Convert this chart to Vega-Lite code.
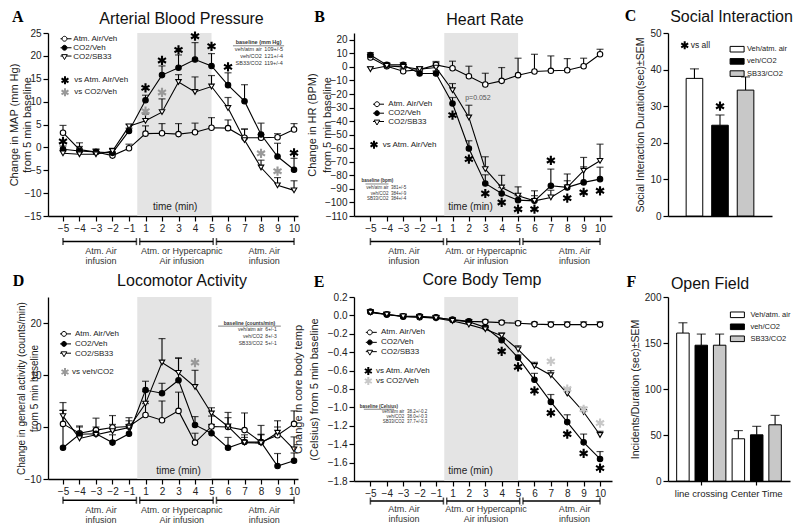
{
"$schema": "https://vega.github.io/schema/vega-lite/v6.json",
"padding": {"left": 8, "top": 7, "right": 0, "bottom": 0},
"background": "white",
"bounds": "flush",
"columns": 3,
"spacing": {"row": 81, "column": 56},
"resolve": {"scale": {"color": "independent", "fill": "independent", "shape": "independent"}, "legend": {"color": "independent", "fill": "independent", "shape": "independent"}},
"datasets": {
"br": [{"t": -5, "t2": -0.1}, {"t": 0.3, "t2": 5.1}, {"t": 5.3, "t2": 10}],
"bt": [{"t": -5}, {"t": -0.1}, {"t": 0.3}, {"t": 5.1}, {"t": 5.3}, {"t": 10}],
"bl1": [{"t": -2.7, "label": "Atm. Air\ninfusion"}, {"t": 3.2, "label": "Atm. or Hypercapnic\nAir infusion"}, {"t": 8.2, "label": "Atm. Air\ninfusion"}],
"bl2": [{"t": -2.95, "label": "Atm. Air\ninfusion"}, {"t": 3.05, "label": "Atm. or Hypercapnic\nAir infusion"}, {"t": 8.45, "label": "Atm. Air\ninfusion"}],
"leg": [{"t": -5, "series": "Atm. Air/Veh"}, {"t": -5, "series": "CO2/Veh"}, {"t": -5, "series": "CO2/SB33"}],
"A": [
{"t":-5,"series":"Atm. Air/Veh","v":3.2,"hi":4.8},{"t":-4,"series":"Atm. Air/Veh","v":-0.5,"hi":1.0},{"t":-3,"series":"Atm. Air/Veh","v":-1.0,"hi":-0.4},{"t":-2,"series":"Atm. Air/Veh","v":-1.8,"hi":-1.2},{"t":-1,"series":"Atm. Air/Veh","v":-0.2,"hi":0.7},{"t":1,"series":"Atm. Air/Veh","v":3.0,"hi":4.7},{"t":2,"series":"Atm. Air/Veh","v":3.1,"hi":5.2},{"t":3,"series":"Atm. Air/Veh","v":2.9,"hi":5.2},{"t":4,"series":"Atm. Air/Veh","v":3.3,"hi":5.3},{"t":5,"series":"Atm. Air/Veh","v":4.3,"hi":6.5},{"t":6,"series":"Atm. Air/Veh","v":4.2,"hi":6.0},{"t":7,"series":"Atm. Air/Veh","v":2.1,"hi":4.0},{"t":8,"series":"Atm. Air/Veh","v":2.1,"hi":2.8},{"t":9,"series":"Atm. Air/Veh","v":2.2,"hi":3.0},{"t":10,"series":"Atm. Air/Veh","v":3.9,"hi":5.2},
{"t":-5,"series":"CO2/Veh","v":-0.4,"hi":0.3},{"t":-4,"series":"CO2/Veh","v":-0.8,"hi":0.2},{"t":-3,"series":"CO2/Veh","v":-1.0,"hi":-0.4},{"t":-2,"series":"CO2/Veh","v":-1.2,"hi":-0.4},{"t":-1,"series":"CO2/Veh","v":3.6,"hi":4.2},{"t":1,"series":"CO2/Veh","v":10.3,"hi":11.4},{"t":2,"series":"CO2/Veh","v":15.8,"hi":17.8},{"t":3,"series":"CO2/Veh","v":17.4,"hi":20.2},{"t":4,"series":"CO2/Veh","v":19.2,"hi":22.9},{"t":5,"series":"CO2/Veh","v":17.8,"hi":20.5},{"t":6,"series":"CO2/Veh","v":13.6,"hi":16.3},{"t":7,"series":"CO2/Veh","v":10.1,"hi":13.7},{"t":8,"series":"CO2/Veh","v":2.8,"hi":5.3},{"t":9,"series":"CO2/Veh","v":-2.0,"hi":0.9},{"t":10,"series":"CO2/Veh","v":-4.9,"hi":-2.4},
{"t":-5,"series":"CO2/SB33","v":-1.3,"hi":-0.7},{"t":-4,"series":"CO2/SB33","v":-1.5,"hi":-0.9},{"t":-3,"series":"CO2/SB33","v":-1.5,"hi":-0.9},{"t":-2,"series":"CO2/SB33","v":-0.8,"hi":-0.2},{"t":-1,"series":"CO2/SB33","v":4.6,"hi":5.0},{"t":1,"series":"CO2/SB33","v":5.8,"hi":7.3},{"t":2,"series":"CO2/SB33","v":7.7,"hi":10.6},{"t":3,"series":"CO2/SB33","v":14.3,"hi":15.9},{"t":4,"series":"CO2/SB33","v":12.1,"hi":15.4},{"t":5,"series":"CO2/SB33","v":13.3,"hi":15.7},{"t":6,"series":"CO2/SB33","v":8.6,"hi":10.9},{"t":7,"series":"CO2/SB33","v":1.6,"hi":4.0},{"t":8,"series":"CO2/SB33","v":-4.4,"hi":-2.8},{"t":9,"series":"CO2/SB33","v":-8.3,"hi":-6.6},{"t":10,"series":"CO2/SB33","v":-9.4,"hi":-7.3}
],
"As": [{"t":-5,"v":1.3,"sig":"vs Atm. Air/Veh"},{"t":1,"v":13.0,"sig":"vs Atm. Air/Veh"},{"t":2,"v":19.0,"sig":"vs Atm. Air/Veh"},{"t":3,"v":21.3,"sig":"vs Atm. Air/Veh"},{"t":4,"v":24.3,"sig":"vs Atm. Air/Veh"},{"t":5,"v":22.1,"sig":"vs Atm. Air/Veh"},{"t":6,"v":17.6,"sig":"vs Atm. Air/Veh"},{"t":10,"v":-1.2,"sig":"vs Atm. Air/Veh"},{"t":1,"v":7.9,"sig":"vs CO2/Veh"},{"t":2,"v":12.0,"sig":"vs CO2/Veh"},{"t":8,"v":-1.3,"sig":"vs CO2/Veh"},{"t":9,"v":-5.2,"sig":"vs CO2/Veh"}],
"B": [
{"t":-5,"series":"Atm. Air/Veh","v":6.9,"hi":9},{"t":-4,"series":"Atm. Air/Veh","v":0.5,"hi":2.5},{"t":-3,"series":"Atm. Air/Veh","v":-3.2,"hi":-1},{"t":-2,"series":"Atm. Air/Veh","v":-2,"hi":0},{"t":-1,"series":"Atm. Air/Veh","v":1.5,"hi":4},{"t":1,"series":"Atm. Air/Veh","v":-1,"hi":4.2},{"t":2,"series":"Atm. Air/Veh","v":-6.9,"hi":0.5},{"t":3,"series":"Atm. Air/Veh","v":-13,"hi":-4.7},{"t":4,"series":"Atm. Air/Veh","v":-10.3,"hi":-0.5},{"t":5,"series":"Atm. Air/Veh","v":-6.1,"hi":6.4},{"t":6,"series":"Atm. Air/Veh","v":-3.4,"hi":9.3},{"t":7,"series":"Atm. Air/Veh","v":-2.9,"hi":8.1},{"t":8,"series":"Atm. Air/Veh","v":-2.5,"hi":6.1},{"t":9,"series":"Atm. Air/Veh","v":0.5,"hi":6.4},{"t":10,"series":"Atm. Air/Veh","v":9.3,"hi":13},
{"t":-5,"series":"CO2/Veh","v":8.8,"hi":10.5},{"t":-4,"series":"CO2/Veh","v":1.5,"hi":3},{"t":-3,"series":"CO2/Veh","v":1.5,"hi":3},{"t":-2,"series":"CO2/Veh","v":-4.9,"hi":-3},{"t":-1,"series":"CO2/Veh","v":-4.9,"hi":-3},{"t":1,"series":"CO2/Veh","v":-27,"hi":-22.6},{"t":2,"series":"CO2/Veh","v":-60.2,"hi":-54.5},{"t":3,"series":"CO2/Veh","v":-86,"hi":-79.6},{"t":4,"series":"CO2/Veh","v":-93.4,"hi":-89},{"t":5,"series":"CO2/Veh","v":-98.3,"hi":-95},{"t":6,"series":"CO2/Veh","v":-98.8,"hi":-95},{"t":7,"series":"CO2/Veh","v":-87.7,"hi":-75.4},{"t":8,"series":"CO2/Veh","v":-88.9,"hi":-79},{"t":9,"series":"CO2/Veh","v":-85.2,"hi":-73.7},{"t":10,"series":"CO2/Veh","v":-82.8,"hi":-74},
{"t":-5,"series":"CO2/SB33","v":-1.7,"hi":0},{"t":-4,"series":"CO2/SB33","v":0.7,"hi":2},{"t":-3,"series":"CO2/SB33","v":0,"hi":1.5},{"t":-2,"series":"CO2/SB33","v":-1.7,"hi":0},{"t":-1,"series":"CO2/SB33","v":-0.5,"hi":3},{"t":1,"series":"CO2/SB33","v":-17.2,"hi":-12.3},{"t":2,"series":"CO2/SB33","v":-37.3,"hi":-28.3},{"t":3,"series":"CO2/SB33","v":-75.4,"hi":-66.3},{"t":4,"series":"CO2/SB33","v":-89,"hi":-80},{"t":5,"series":"CO2/SB33","v":-95,"hi":-88.5},{"t":6,"series":"CO2/SB33","v":-98.8,"hi":-91.4},{"t":7,"series":"CO2/SB33","v":-96.3,"hi":-91},{"t":8,"series":"CO2/SB33","v":-88.9,"hi":-84},{"t":9,"series":"CO2/SB33","v":-76.6,"hi":-66.8},{"t":10,"series":"CO2/SB33","v":-69.3,"hi":-57}
],
"Bs": [{"t":1,"v":-35.6,"sig":"vs Atm. Air/Veh"},{"t":2,"v":-68,"sig":"vs Atm. Air/Veh"},{"t":3,"v":-93.4,"sig":"vs Atm. Air/Veh"},{"t":4,"v":-100,"sig":"vs Atm. Air/Veh"},{"t":5,"v":-105,"sig":"vs Atm. Air/Veh"},{"t":6,"v":-105,"sig":"vs Atm. Air/Veh"},{"t":7,"v":-69,"sig":"vs Atm. Air/Veh"},{"t":8,"v":-96.8,"sig":"vs Atm. Air/Veh"},{"t":9,"v":-92.6,"sig":"vs Atm. Air/Veh"},{"t":10,"v":-91.4,"sig":"vs Atm. Air/Veh"}],
"D": [
{"t":-5,"series":"Atm. Air/Veh","v":0.6,"hi":3.2},{"t":-4,"series":"Atm. Air/Veh","v":-1.2,"hi":0.2},{"t":-3,"series":"Atm. Air/Veh","v":-0.6,"hi":1.7},{"t":-2,"series":"Atm. Air/Veh","v":-0.1,"hi":2.2},{"t":-1,"series":"Atm. Air/Veh","v":0.1,"hi":1.8},{"t":1,"series":"Atm. Air/Veh","v":2.3,"hi":4.5},{"t":2,"series":"Atm. Air/Veh","v":1.3,"hi":5.0},{"t":3,"series":"Atm. Air/Veh","v":3.1,"hi":6.7},{"t":4,"series":"Atm. Air/Veh","v":-3.0,"hi":-1.2},{"t":5,"series":"Atm. Air/Veh","v":0.1,"hi":2.1},{"t":6,"series":"Atm. Air/Veh","v":0,"hi":2.8},{"t":7,"series":"Atm. Air/Veh","v":-0.6,"hi":2.7},{"t":8,"series":"Atm. Air/Veh","v":-2.9,"hi":-1.5},{"t":9,"series":"Atm. Air/Veh","v":-1.6,"hi":0},{"t":10,"series":"Atm. Air/Veh","v":0.6,"hi":3.1},
{"t":-5,"series":"CO2/Veh","v":-4.0,"hi":3.2},{"t":-4,"series":"CO2/Veh","v":-1.4,"hi":0},{"t":-3,"series":"CO2/Veh","v":-1.3,"hi":0},{"t":-2,"series":"CO2/Veh","v":-3.0,"hi":-1.5},{"t":-1,"series":"CO2/Veh","v":-1.3,"hi":0.5},{"t":1,"series":"CO2/Veh","v":7.1,"hi":8.8},{"t":2,"series":"CO2/Veh","v":6.5,"hi":8.4},{"t":3,"series":"CO2/Veh","v":9.0,"hi":13.3},{"t":4,"series":"CO2/Veh","v":0.4,"hi":2.0},{"t":5,"series":"CO2/Veh","v":-1.2,"hi":0.5},{"t":6,"series":"CO2/Veh","v":-4.0,"hi":-2},{"t":7,"series":"CO2/Veh","v":-2.9,"hi":-1.5},{"t":8,"series":"CO2/Veh","v":-2.9,"hi":0.3},{"t":9,"series":"CO2/Veh","v":-7.5,"hi":-5.1},{"t":10,"series":"CO2/Veh","v":-6.5,"hi":-5},
{"t":-5,"series":"CO2/SB33","v":2.1,"hi":4.7},{"t":-4,"series":"CO2/SB33","v":-2.2,"hi":-1},{"t":-3,"series":"CO2/SB33","v":-1.5,"hi":-0.5},{"t":-2,"series":"CO2/SB33","v":-0.8,"hi":0.5},{"t":-1,"series":"CO2/SB33","v":-0.1,"hi":1.2},{"t":1,"series":"CO2/SB33","v":4.5,"hi":6.8},{"t":2,"series":"CO2/SB33","v":12.4,"hi":17.0},{"t":3,"series":"CO2/SB33","v":10.4,"hi":13.2},{"t":4,"series":"CO2/SB33","v":7.7,"hi":10.9},{"t":5,"series":"CO2/SB33","v":2.6,"hi":3.7},{"t":6,"series":"CO2/SB33","v":0.1,"hi":1.8},{"t":7,"series":"CO2/SB33","v":-3.0,"hi":-2},{"t":8,"series":"CO2/SB33","v":-3.1,"hi":-1.4},{"t":9,"series":"CO2/SB33","v":-1.1,"hi":1.2},{"t":10,"series":"CO2/SB33","v":-4.3,"hi":-1.9}
],
"Ds": [{"t":4,"v":12.4,"sig":"vs veh/CO2"}],
"E": [
{"t":-5,"series":"Atm. Air/Veh","v":0.04,"hi":0.06},{"t":-4,"series":"Atm. Air/Veh","v":0.01,"hi":0.03},{"t":-3,"series":"Atm. Air/Veh","v":-0.015,"hi":0.005},{"t":-2,"series":"Atm. Air/Veh","v":-0.02,"hi":0},{"t":-1,"series":"Atm. Air/Veh","v":-0.025,"hi":-0.005},{"t":1,"series":"Atm. Air/Veh","v":-0.045,"hi":-0.025},{"t":2,"series":"Atm. Air/Veh","v":-0.065,"hi":-0.045},{"t":3,"series":"Atm. Air/Veh","v":-0.07,"hi":-0.05},{"t":4,"series":"Atm. Air/Veh","v":-0.078,"hi":-0.058},{"t":5,"series":"Atm. Air/Veh","v":-0.086,"hi":-0.066},{"t":6,"series":"Atm. Air/Veh","v":-0.095,"hi":-0.075},{"t":7,"series":"Atm. Air/Veh","v":-0.1,"hi":-0.07},{"t":8,"series":"Atm. Air/Veh","v":-0.1,"hi":-0.07},{"t":9,"series":"Atm. Air/Veh","v":-0.1,"hi":-0.07},{"t":10,"series":"Atm. Air/Veh","v":-0.1,"hi":-0.07},
{"t":-5,"series":"CO2/Veh","v":0.04,"hi":0.06},{"t":-4,"series":"CO2/Veh","v":0.01,"hi":0.03},{"t":-3,"series":"CO2/Veh","v":-0.01,"hi":0.01},{"t":-2,"series":"CO2/Veh","v":-0.01,"hi":0.01},{"t":-1,"series":"CO2/Veh","v":-0.02,"hi":0},{"t":1,"series":"CO2/Veh","v":-0.05,"hi":-0.03},{"t":2,"series":"CO2/Veh","v":-0.07,"hi":-0.05},{"t":3,"series":"CO2/Veh","v":-0.13,"hi":-0.11},{"t":4,"series":"CO2/Veh","v":-0.27,"hi":-0.25},{"t":5,"series":"CO2/Veh","v":-0.46,"hi":-0.43},{"t":6,"series":"CO2/Veh","v":-0.70,"hi":-0.63},{"t":7,"series":"CO2/Veh","v":-0.94,"hi":-0.86},{"t":8,"series":"CO2/Veh","v":-1.16,"hi":-1.08},{"t":9,"series":"CO2/Veh","v":-1.38,"hi":-1.29},{"t":10,"series":"CO2/Veh","v":-1.56,"hi":-1.48},
{"t":-5,"series":"CO2/SB33","v":0.03,"hi":0.05},{"t":-4,"series":"CO2/SB33","v":0.01,"hi":0.03},{"t":-3,"series":"CO2/SB33","v":-0.01,"hi":0.01},{"t":-2,"series":"CO2/SB33","v":-0.02,"hi":0},{"t":-1,"series":"CO2/SB33","v":-0.03,"hi":-0.01},{"t":1,"series":"CO2/SB33","v":-0.06,"hi":-0.04},{"t":2,"series":"CO2/SB33","v":-0.10,"hi":-0.08},{"t":3,"series":"CO2/SB33","v":-0.15,"hi":-0.13},{"t":4,"series":"CO2/SB33","v":-0.22,"hi":-0.19},{"t":5,"series":"CO2/SB33","v":-0.37,"hi":-0.33},{"t":6,"series":"CO2/SB33","v":-0.55,"hi":-0.51},{"t":7,"series":"CO2/SB33","v":-0.65,"hi":-0.6},{"t":8,"series":"CO2/SB33","v":-0.85,"hi":-0.8},{"t":9,"series":"CO2/SB33","v":-1.05,"hi":-1.0},{"t":10,"series":"CO2/SB33","v":-1.30,"hi":-1.26}
],
"Es": [{"t":4,"v":-0.39,"sig":"vs Atm. Air/Veh"},{"t":5,"v":-0.56,"sig":"vs Atm. Air/Veh"},{"t":6,"v":-0.82,"sig":"vs Atm. Air/Veh"},{"t":7,"v":-1.06,"sig":"vs Atm. Air/Veh"},{"t":8,"v":-1.29,"sig":"vs Atm. Air/Veh"},{"t":9,"v":-1.50,"sig":"vs Atm. Air/Veh"},{"t":10,"v":-1.66,"sig":"vs Atm. Air/Veh"},{"t":7,"v":-0.50,"sig":"vs CO2/Veh"},{"t":8,"v":-0.80,"sig":"vs CO2/Veh"},{"t":9,"v":-1.02,"sig":"vs CO2/Veh"},{"t":10,"v":-1.17,"sig":"vs CO2/Veh"}],
"C": [{"g":"Veh/atm. air","v":37.6,"hi":40.2},{"g":"veh/CO2","v":24.8,"hi":27.6},{"g":"SB33/CO2","v":34.4,"hi":38.0}],
"Cs": [{"g":"veh/CO2","v":30.0,"sig":"vs all"}],
"F": [{"grp":"line crossing","g":"Veh/atm. air","v":160.8,"hi":172},{"grp":"line crossing","g":"veh/CO2","v":147.6,"hi":159.7},{"grp":"line crossing","g":"SB33/CO2","v":147.6,"hi":159.7},{"grp":"Center Time","g":"Veh/atm. air","v":45.9,"hi":54.8},{"grp":"Center Time","g":"veh/CO2","v":50.2,"hi":59.4},{"grp":"Center Time","g":"SB33/CO2","v":61.1,"hi":71.3}]
},
"concat": [
{
 "width": 250, "height": 183,
 "title": {"text": "Arterial Blood Pressure", "dx": 8.5, "offset": -31.3, "baseline": "alphabetic", "frame": "group"},
 "encoding": {"x": {"field": "t", "type": "quantitative", "scale": {"domain": [-5.909, -1, 1, 10.24], "range": [0, 81, 97.5, 250], "nice": false, "zero": false}, "axis": {"values": [-5,-4,-3,-2,-1,1,2,3,4,5,6,7,8,9,10], "title": null, "labelOverlap": false, "labelFlush": false}}},
 "layer": [
  {"layer": [
   {"data": {"values": [{"t": 0, "t2": 5}]}, "mark": {"type": "rect", "color": "#e4e4e4"}, "encoding": {"x2": {"field": "t2"}, "y": {"datum": 0, "type": "quantitative", "scale": {"domain": [0, 1], "nice": false, "zero": false}, "axis": {"orient": "right", "labels": false, "ticks": false, "domain": false, "title": "A", "titleAngle": 0, "titleX": -280.7, "titleY": -11.3, "titleFont": "Liberation Serif", "titleFontWeight": "bold", "titleFontSize": 16, "titleColor": "#000", "titleAlign": "center", "titleBaseline": "alphabetic"}}, "y2": {"datum": 1}}},
   {"data": {"name": "br"}, "mark": {"type": "rule", "color": "#000", "strokeWidth": 1.5}, "encoding": {"x2": {"field": "t2"}, "y": {"datum": -0.14, "type": "quantitative", "scale": {"domain": [0, 1], "nice": false, "zero": false}}}},
   {"data": {"name": "bt"}, "mark": {"type": "tick", "orient": "vertical", "color": "#000", "size": 7, "thickness": 1.5}, "encoding": {"y": {"datum": -0.14, "type": "quantitative", "scale": {"domain": [0, 1], "nice": false, "zero": false}}}},
   {"data": {"name": "bl1"}, "mark": {"type": "text", "lineBreak": "\n", "baseline": "top", "fontSize": 9, "lineHeight": 10, "color": "#333"}, "encoding": {"text": {"field": "label"}, "y": {"datum": -0.167, "type": "quantitative", "scale": {"domain": [0, 1], "nice": false, "zero": false}}}},
   {"data": {"values": [{"t": 2.8, "label": "time (min)"}]}, "mark": {"type": "text", "fontSize": 10, "color": "#222"}, "encoding": {"text": {"field": "label"}, "y": {"datum": 0.05, "type": "quantitative", "scale": {"domain": [0, 1], "nice": false, "zero": false}}}},
   {"data": {"values": [{"t": 7.85, "p": 0.95, "label": "baseline (mm Hg)"}]}, "mark": {"type": "text", "fontSize": 5.5, "fontWeight": "bold", "color": "#333"}, "encoding": {"text": {"field": "label"}, "y": {"field": "p", "type": "quantitative", "scale": {"domain": [0, 1], "nice": false, "zero": false}}}},
   {"data": {"values": [{"t": 6.3, "t2": 9.4, "p": 0.93}]}, "mark": {"type": "rule", "color": "#333", "strokeWidth": 0.6}, "encoding": {"x2": {"field": "t2"}, "y": {"field": "p", "type": "quantitative", "scale": {"domain": [0, 1], "nice": false, "zero": false}}}},
   {"data": {"values": [{"t": 8.05, "p": 0.913, "label": "veh/atm air"}, {"t": 8.05, "p": 0.874, "label": "veh/CO2"}, {"t": 8.05, "p": 0.836, "label": "SB33/CO2"}]}, "mark": {"type": "text", "align": "right", "fontSize": 5.5, "color": "#333"}, "encoding": {"text": {"field": "label"}, "y": {"field": "p", "type": "quantitative", "scale": {"domain": [0, 1], "nice": false, "zero": false}}}},
   {"data": {"values": [{"t": 8.2, "p": 0.913, "label": "109+/-5"}, {"t": 8.2, "p": 0.874, "label": "121+/-4"}, {"t": 8.2, "p": 0.836, "label": "119+/-4"}]}, "mark": {"type": "text", "align": "left", "fontSize": 5.5, "color": "#333"}, "encoding": {"text": {"field": "label"}, "y": {"field": "p", "type": "quantitative", "scale": {"domain": [0, 1], "nice": false, "zero": false}}}},
   {"data": {"name": "leg"}, "mark": {"type": "point", "filled": true, "clip": true, "stroke": "#000", "strokeWidth": 1, "size": 49}, "encoding": {"y": {"datum": 3, "type": "quantitative", "scale": {"domain": [0, 1], "nice": false, "zero": false}},
     "shape": {"field": "series", "type": "nominal", "scale": {"domain": ["Atm. Air/Veh", "CO2/Veh", "CO2/SB33"], "range": ["M-2,0H-0.7M0.7,0H2M0.7,0A0.7,0.7,0,1,1,-0.7,0A0.7,0.7,0,1,1,0.7,0Z", "M-2,0H-0.7M0.7,0H2M0.7,0A0.7,0.7,0,1,1,-0.7,0A0.7,0.7,0,1,1,0.7,0Z", "M-2,-0.2H-0.57M0.57,-0.2H2M-0.8,-0.6H0.8L0,0.8Z"]}, "legend": {"title": null, "orient": "none", "legendX": 12.5, "legendY": 2, "symbolSize": 49, "symbolStrokeColor": "#000", "symbolStrokeWidth": 1, "symbolOpacity": 1, "labelFontSize": 8, "labelOffset": 4.8, "rowPadding": 0, "clipHeight": 7.5, "encode": {"symbols": {"update": {"stroke": {"value": "#000"}, "strokeWidth": {"value": 1}}}}}},
     "fill": {"field": "series", "type": "nominal", "scale": {"domain": ["Atm. Air/Veh", "CO2/Veh", "CO2/SB33"], "range": ["#fff", "#000", "#fff"]}, "legend": {"title": null, "orient": "none", "legendX": 12.5, "legendY": 2, "symbolSize": 49, "symbolStrokeColor": "#000", "symbolStrokeWidth": 1, "symbolOpacity": 1, "labelFontSize": 8, "labelOffset": 4.8, "rowPadding": 0, "clipHeight": 7.5, "encode": {"symbols": {"update": {"stroke": {"value": "#000"}, "strokeWidth": {"value": 1}}}}}}}}
  ]},
  {"data": {"name": "A"}, "encoding": {"y": {"field": "v", "type": "quantitative", "scale": {"domain": [-15, 25], "nice": false, "zero": false}, "axis": {"orient": "left", "values": [-15,-10,-5,0,5,10,15,20,25], "title": ["Change in MAP (mm Hg)", "from 5 min baseline"], "titlePadding": -8}}},
   "layer": [
    {"mark": {"type": "line", "color": "#000", "strokeWidth": 1.1}, "encoding": {"detail": {"field": "series", "type": "nominal"}}},
    {"mark": {"type": "rule", "color": "#000", "strokeWidth": 1.1}, "encoding": {"y2": {"field": "hi"}}},
    {"mark": {"type": "tick", "orient": "horizontal", "color": "#000", "size": 7, "thickness": 1.2}, "encoding": {"y": {"field": "hi", "type": "quantitative", "scale": {"domain": [-15, 25], "nice": false, "zero": false}}}},
    {"mark": {"type": "point", "filled": true, "size": 30, "stroke": "#000", "strokeWidth": 1.1, "opacity": 1}, "encoding": {"shape": {"field": "series", "type": "nominal", "scale": {"domain": ["Atm. Air/Veh", "CO2/Veh", "CO2/SB33"], "range": ["circle", "circle", "triangle-down"]}, "legend": null}, "fill": {"field": "series", "type": "nominal", "scale": {"domain": ["Atm. Air/Veh", "CO2/Veh", "CO2/SB33"], "range": ["#fff", "#000", "#fff"]}, "legend": null}}},
    {"data": {"name": "As"}, "mark": {"type": "point", "shape": "M0,-1V1M-0.87,-0.5L0.87,0.5M-0.87,0.5L0.87,-0.5", "filled": false, "size": 85, "strokeWidth": 2.1, "opacity": 1}, "encoding": {"color": {"field": "sig", "type": "nominal", "scale": {"domain": ["vs Atm. Air/Veh", "vs CO2/Veh"], "range": ["#000", "#999"]}, "legend": {"title": null, "orient": "none", "legendX": 12, "legendY": 41.3, "symbolType": "M0,-1V1M-0.87,-0.5L0.87,0.5M-0.87,0.5L0.87,-0.5", "symbolSize": 64, "symbolStrokeWidth": 2, "labelFontSize": 8, "labelOffset": 4.3, "rowPadding": 0, "clipHeight": 12}}}}
   ]}
 ],
 "resolve": {"scale": {"y": "independent", "shape": "independent", "fill": "independent"}}
},
{
 "width": 258, "height": 183,
 "title": {"text": "Heart Rate", "dx": 2, "offset": -32.3, "baseline": "alphabetic", "frame": "group"},
 "encoding": {"x": {"field": "t", "type": "quantitative", "scale": {"domain": [-6, -1, 1, 10.73], "range": [0, 82, 98.5, 258], "nice": false, "zero": false}, "axis": {"values": [-5,-4,-3,-2,-1,1,2,3,4,5,6,7,8,9,10], "title": null, "labelOverlap": false, "labelFlush": false}}},
 "layer": [
  {"layer": [
   {"data": {"values": [{"t": 0, "t2": 5}]}, "mark": {"type": "rect", "color": "#e4e4e4"}, "encoding": {"x2": {"field": "t2"}, "y": {"datum": 0, "type": "quantitative", "scale": {"domain": [0, 1], "nice": false, "zero": false}, "axis": {"orient": "right", "labels": false, "ticks": false, "domain": false, "title": "B", "titleAngle": 0, "titleX": -293, "titleY": -11.3, "titleFont": "Liberation Serif", "titleFontWeight": "bold", "titleFontSize": 16, "titleColor": "#000", "titleAlign": "center", "titleBaseline": "alphabetic"}}, "y2": {"datum": 1}}},
   {"data": {"name": "br"}, "mark": {"type": "rule", "color": "#000", "strokeWidth": 1.5}, "encoding": {"x2": {"field": "t2"}, "y": {"datum": -0.14, "type": "quantitative", "scale": {"domain": [0, 1], "nice": false, "zero": false}}}},
   {"data": {"name": "bt"}, "mark": {"type": "tick", "orient": "vertical", "color": "#000", "size": 7, "thickness": 1.5}, "encoding": {"y": {"datum": -0.14, "type": "quantitative", "scale": {"domain": [0, 1], "nice": false, "zero": false}}}},
   {"data": {"name": "bl2"}, "mark": {"type": "text", "lineBreak": "\n", "baseline": "top", "fontSize": 9, "lineHeight": 10, "color": "#333"}, "encoding": {"text": {"field": "label"}, "y": {"datum": -0.167, "type": "quantitative", "scale": {"domain": [0, 1], "nice": false, "zero": false}}}},
   {"data": {"values": [{"t": 2.1, "label": "time (min)"}]}, "mark": {"type": "text", "fontSize": 10, "color": "#222"}, "encoding": {"text": {"field": "label"}, "y": {"datum": 0.05, "type": "quantitative", "scale": {"domain": [0, 1], "nice": false, "zero": false}}}},
   {"data": {"values": [{"t": -4.58, "p": 0.19, "label": "baseline (bpm)"}]}, "mark": {"type": "text", "fontSize": 4.5, "fontWeight": "bold", "color": "#333"}, "encoding": {"text": {"field": "label"}, "y": {"field": "p", "type": "quantitative", "scale": {"domain": [0, 1], "nice": false, "zero": false}}}},
   {"data": {"values": [{"t": -5.3, "t2": -3.9, "p": 0.175}]}, "mark": {"type": "rule", "color": "#333", "strokeWidth": 0.6}, "encoding": {"x2": {"field": "t2"}, "y": {"field": "p", "type": "quantitative", "scale": {"domain": [0, 1], "nice": false, "zero": false}}}},
   {"data": {"values": [{"t": -3.9, "p": 0.153, "label": "veh/atm air"}, {"t": -3.9, "p": 0.12, "label": "veh/CO2"}, {"t": -3.9, "p": 0.093, "label": "SB33/CO2"}]}, "mark": {"type": "text", "align": "right", "fontSize": 4.5, "color": "#333"}, "encoding": {"text": {"field": "label"}, "y": {"field": "p", "type": "quantitative", "scale": {"domain": [0, 1], "nice": false, "zero": false}}}},
   {"data": {"values": [{"t": -3.75, "p": 0.153, "label": "381+/-5"}, {"t": -3.75, "p": 0.12, "label": "384+/-9"}, {"t": -3.75, "p": 0.093, "label": "384+/-4"}]}, "mark": {"type": "text", "align": "left", "fontSize": 4.5, "color": "#333"}, "encoding": {"text": {"field": "label"}, "y": {"field": "p", "type": "quantitative", "scale": {"domain": [0, 1], "nice": false, "zero": false}}}},
   {"data": {"name": "leg"}, "mark": {"type": "point", "filled": true, "clip": true, "stroke": "#000", "strokeWidth": 1, "size": 49}, "encoding": {"y": {"datum": 3, "type": "quantitative", "scale": {"domain": [0, 1], "nice": false, "zero": false}},
     "shape": {"field": "series", "type": "nominal", "scale": {"domain": ["Atm. Air/Veh", "CO2/Veh", "CO2/SB33"], "range": ["M-2,0H-0.7M0.7,0H2M0.7,0A0.7,0.7,0,1,1,-0.7,0A0.7,0.7,0,1,1,0.7,0Z", "M-2,0H-0.7M0.7,0H2M0.7,0A0.7,0.7,0,1,1,-0.7,0A0.7,0.7,0,1,1,0.7,0Z", "M-2,-0.2H-0.57M0.57,-0.2H2M-0.8,-0.6H0.8L0,0.8Z"]}, "legend": {"title": null, "orient": "none", "legendX": 19, "legendY": 66.7, "symbolSize": 49, "symbolStrokeColor": "#000", "symbolStrokeWidth": 1, "symbolOpacity": 1, "labelFontSize": 8, "labelOffset": 7.3, "rowPadding": 0, "clipHeight": 9, "encode": {"symbols": {"update": {"stroke": {"value": "#000"}, "strokeWidth": {"value": 1}}}}}},
     "fill": {"field": "series", "type": "nominal", "scale": {"domain": ["Atm. Air/Veh", "CO2/Veh", "CO2/SB33"], "range": ["#fff", "#000", "#fff"]}, "legend": {"title": null, "orient": "none", "legendX": 19, "legendY": 66.7, "symbolSize": 49, "symbolStrokeColor": "#000", "symbolStrokeWidth": 1, "symbolOpacity": 1, "labelFontSize": 8, "labelOffset": 7.3, "rowPadding": 0, "clipHeight": 9, "encode": {"symbols": {"update": {"stroke": {"value": "#000"}, "strokeWidth": {"value": 1}}}}}}}}
  ]},
  {"data": {"name": "B"}, "encoding": {"y": {"field": "v", "type": "quantitative", "scale": {"domain": [-110, 25], "nice": false, "zero": false}, "axis": {"orient": "left", "values": [-110,-100,-90,-80,-70,-60,-50,-40,-30,-20,-10,0,10,20], "title": ["Change in HR (BPM)", "from 5 min baseline"], "titlePadding": -8, "titleLineHeight": 15}}},
   "layer": [
    {"mark": {"type": "line", "color": "#000", "strokeWidth": 1.1}, "encoding": {"detail": {"field": "series", "type": "nominal"}}},
    {"mark": {"type": "rule", "color": "#000", "strokeWidth": 1.1}, "encoding": {"y2": {"field": "hi"}}},
    {"mark": {"type": "tick", "orient": "horizontal", "color": "#000", "size": 7, "thickness": 1.2}, "encoding": {"y": {"field": "hi", "type": "quantitative", "scale": {"domain": [-110, 25], "nice": false, "zero": false}}}},
    {"mark": {"type": "point", "filled": true, "size": 30, "stroke": "#000", "strokeWidth": 1.1, "opacity": 1}, "encoding": {"shape": {"field": "series", "type": "nominal", "scale": {"domain": ["Atm. Air/Veh", "CO2/Veh", "CO2/SB33"], "range": ["circle", "circle", "triangle-down"]}, "legend": null}, "fill": {"field": "series", "type": "nominal", "scale": {"domain": ["Atm. Air/Veh", "CO2/Veh", "CO2/SB33"], "range": ["#fff", "#000", "#fff"]}, "legend": null}}},
    {"data": {"values": [{"t": 2.55, "v": -23.3, "label": "p=0.052"}]}, "mark": {"type": "text", "fontSize": 7, "color": "#555"}, "encoding": {"text": {"field": "label"}}},
    {"data": {"name": "Bs"}, "mark": {"type": "point", "shape": "M0,-1V1M-0.87,-0.5L0.87,0.5M-0.87,0.5L0.87,-0.5", "filled": false, "size": 85, "strokeWidth": 2.1, "opacity": 1}, "encoding": {"color": {"field": "sig", "type": "nominal", "scale": {"domain": ["vs Atm. Air/Veh"], "range": ["#000"]}, "legend": {"title": null, "orient": "none", "legendX": 15, "legendY": 105.7, "symbolType": "M0,-1V1M-0.87,-0.5L0.87,0.5M-0.87,0.5L0.87,-0.5", "symbolSize": 64, "symbolStrokeWidth": 2, "labelFontSize": 8, "labelOffset": 3.7, "rowPadding": 0, "clipHeight": 12}}}}
   ]}
 ],
 "resolve": {"scale": {"y": "independent", "shape": "independent", "fill": "independent"}}
},
{
 "width": 104, "height": 183,
 "title": {"text": "Social Interaction", "dx": 11.5, "offset": -30.3, "baseline": "alphabetic", "frame": "group"},
 "layer": [
  {"data": {"name": "C"},
   "encoding": {
    "x": {"field": "g", "type": "nominal", "sort": null, "scale": {"domain": ["Veh/atm. air", "veh/CO2", "SB33/CO2"], "paddingInner": 0.35, "paddingOuter": 0.71}, "axis": {"labels": false, "ticks": false, "title": null}},
    "y": {"field": "v", "type": "quantitative", "scale": {"domain": [0, 50], "nice": false, "zero": false}, "axis": {"orient": "left", "values": [0, 10, 20, 30, 40, 50], "title": "Social Interaction Duration(sec)±SEM", "titleFontSize": 10.5}}
   },
   "layer": [
    {"mark": {"type": "bar", "stroke": "#000", "strokeWidth": 1}, "encoding": {"fill": {"field": "g", "type": "nominal", "scale": {"domain": ["Veh/atm. air", "veh/CO2", "SB33/CO2"], "range": ["#fff", "#000", "#c8c8c8"]}, "legend": {"title": null, "orient": "none", "legendX": 65.1, "legendY": 12.2, "symbolType": "M-2,-0.8H2V0.8H-2Z", "symbolSize": 49, "symbolStrokeColor": "#000", "symbolStrokeWidth": 1, "labelFontSize": 7.5, "labelOffset": 5.9, "rowPadding": 2.2}}}},
    {"mark": {"type": "rule", "color": "#000", "strokeWidth": 1.1}, "encoding": {"y2": {"field": "hi"}}},
    {"mark": {"type": "tick", "orient": "horizontal", "color": "#000", "size": 9, "thickness": 1.2}, "encoding": {"y": {"field": "hi", "type": "quantitative", "scale": {"domain": [0, 50], "nice": false, "zero": false}}}},
    {"data": {"name": "Cs"}, "mark": {"type": "point", "shape": "M0,-1V1M-0.87,-0.5L0.87,0.5M-0.87,0.5L0.87,-0.5", "filled": false, "size": 85, "strokeWidth": 2.1, "opacity": 1}, "encoding": {"color": {"field": "sig", "type": "nominal", "scale": {"domain": ["vs all"], "range": ["#000"]}, "legend": {"title": null, "orient": "none", "legendX": 11.7, "legendY": 7.3, "symbolType": "M0,-1V1M-0.87,-0.5L0.87,0.5M-0.87,0.5L0.87,-0.5", "symbolSize": 64, "symbolStrokeWidth": 2, "labelFontSize": 8.5, "labelOffset": 1, "rowPadding": 0}}}}
   ]},
  {"data": {"values": [{"k": 1}]}, "mark": {"type": "rule", "opacity": 0}, "encoding": {"y": {"datum": 0, "type": "quantitative", "scale": {"domain": [0, 1], "nice": false, "zero": false}, "axis": {"orient": "right", "labels": false, "ticks": false, "domain": false, "title": "C", "titleAngle": 0, "titleX": -142, "titleY": -12.3, "titleFont": "Liberation Serif", "titleFontWeight": "bold", "titleFontSize": 16, "titleColor": "#000", "titleAlign": "center", "titleBaseline": "alphabetic"}}}}
 ],
 "resolve": {"scale": {"y": "independent"}}
},
{
 "width": 250, "height": 182,
 "title": {"text": "Locomotor Activity", "dx": 9, "offset": -30, "baseline": "alphabetic", "frame": "group"},
 "encoding": {"x": {"field": "t", "type": "quantitative", "scale": {"domain": [-5.909, -1, 1, 10.24], "range": [0, 81, 97.5, 250], "nice": false, "zero": false}, "axis": {"values": [-5,-4,-3,-2,-1,1,2,3,4,5,6,7,8,9,10], "title": null, "labelOverlap": false, "labelFlush": false}}},
 "layer": [
  {"layer": [
   {"data": {"values": [{"t": 0, "t2": 5}]}, "mark": {"type": "rect", "color": "#e4e4e4"}, "encoding": {"x2": {"field": "t2"}, "y": {"datum": 0, "type": "quantitative", "scale": {"domain": [0, 1], "nice": false, "zero": false}, "axis": {"orient": "right", "labels": false, "ticks": false, "domain": false, "title": "D", "titleAngle": 0, "titleX": -280, "titleY": -12, "titleFont": "Liberation Serif", "titleFontWeight": "bold", "titleFontSize": 16, "titleColor": "#000", "titleAlign": "center", "titleBaseline": "alphabetic"}}, "y2": {"datum": 1}}},
   {"data": {"name": "br"}, "mark": {"type": "rule", "color": "#000", "strokeWidth": 1.5}, "encoding": {"x2": {"field": "t2"}, "y": {"datum": -0.117, "type": "quantitative", "scale": {"domain": [0, 1], "nice": false, "zero": false}}}},
   {"data": {"name": "bt"}, "mark": {"type": "tick", "orient": "vertical", "color": "#000", "size": 7, "thickness": 1.5}, "encoding": {"y": {"datum": -0.117, "type": "quantitative", "scale": {"domain": [0, 1], "nice": false, "zero": false}}}},
   {"data": {"name": "bl1"}, "mark": {"type": "text", "lineBreak": "\n", "baseline": "top", "fontSize": 9, "lineHeight": 10, "color": "#333"}, "encoding": {"text": {"field": "label"}, "y": {"datum": -0.146, "type": "quantitative", "scale": {"domain": [0, 1], "nice": false, "zero": false}}}},
   {"data": {"values": [{"t": 3, "label": "time (min)"}]}, "mark": {"type": "text", "fontSize": 10, "color": "#222"}, "encoding": {"text": {"field": "label"}, "y": {"datum": 0.045, "type": "quantitative", "scale": {"domain": [0, 1], "nice": false, "zero": false}}}},
   {"data": {"values": [{"t": 7.3, "p": 0.857, "label": "baseline (counts/min)"}]}, "mark": {"type": "text", "fontSize": 5, "fontWeight": "bold", "color": "#333"}, "encoding": {"text": {"field": "label"}, "y": {"field": "p", "type": "quantitative", "scale": {"domain": [0, 1], "nice": false, "zero": false}}}},
   {"data": {"values": [{"t": 5.4, "t2": 9.2, "p": 0.84}]}, "mark": {"type": "rule", "color": "#333", "strokeWidth": 0.6}, "encoding": {"x2": {"field": "t2"}, "y": {"field": "p", "type": "quantitative", "scale": {"domain": [0, 1], "nice": false, "zero": false}}}},
   {"data": {"values": [{"t": 8.1, "p": 0.824, "label": "veh/atm air"}, {"t": 8.1, "p": 0.786, "label": "veh/CO2"}, {"t": 8.1, "p": 0.747, "label": "SB33/CO2"}]}, "mark": {"type": "text", "align": "right", "fontSize": 5, "color": "#333"}, "encoding": {"text": {"field": "label"}, "y": {"field": "p", "type": "quantitative", "scale": {"domain": [0, 1], "nice": false, "zero": false}}}},
   {"data": {"values": [{"t": 8.25, "p": 0.824, "label": "6+/-1"}, {"t": 8.25, "p": 0.786, "label": "8+/-3"}, {"t": 8.25, "p": 0.747, "label": "5+/-1"}]}, "mark": {"type": "text", "align": "left", "fontSize": 5, "color": "#333"}, "encoding": {"text": {"field": "label"}, "y": {"field": "p", "type": "quantitative", "scale": {"domain": [0, 1], "nice": false, "zero": false}}}},
   {"data": {"name": "leg"}, "mark": {"type": "point", "filled": true, "clip": true, "stroke": "#000", "strokeWidth": 1, "size": 49}, "encoding": {"y": {"datum": 3, "type": "quantitative", "scale": {"domain": [0, 1], "nice": false, "zero": false}},
     "shape": {"field": "series", "type": "nominal", "scale": {"domain": ["Atm. Air/Veh", "CO2/Veh", "CO2/SB33"], "range": ["M-2,0H-0.7M0.7,0H2M0.7,0A0.7,0.7,0,1,1,-0.7,0A0.7,0.7,0,1,1,0.7,0Z", "M-2,0H-0.7M0.7,0H2M0.7,0A0.7,0.7,0,1,1,-0.7,0A0.7,0.7,0,1,1,0.7,0Z", "M-2,-0.2H-0.57M0.57,-0.2H2M-0.8,-0.6H0.8L0,0.8Z"]}, "legend": {"title": null, "orient": "none", "legendX": 12, "legendY": 32.3, "symbolSize": 49, "symbolStrokeColor": "#000", "symbolStrokeWidth": 1, "symbolOpacity": 1, "labelFontSize": 8, "labelOffset": 7, "rowPadding": 0, "clipHeight": 9.2, "encode": {"symbols": {"update": {"stroke": {"value": "#000"}, "strokeWidth": {"value": 1}}}}}},
     "fill": {"field": "series", "type": "nominal", "scale": {"domain": ["Atm. Air/Veh", "CO2/Veh", "CO2/SB33"], "range": ["#fff", "#000", "#fff"]}, "legend": {"title": null, "orient": "none", "legendX": 12, "legendY": 32.3, "symbolSize": 49, "symbolStrokeColor": "#000", "symbolStrokeWidth": 1, "symbolOpacity": 1, "labelFontSize": 8, "labelOffset": 7, "rowPadding": 0, "clipHeight": 9.2, "encode": {"symbols": {"update": {"stroke": {"value": "#000"}, "strokeWidth": {"value": 1}}}}}}}}
  ]},
  {"data": {"name": "D"}, "encoding": {"y": {"field": "v", "type": "quantitative", "scale": {"domain": [-10, 25], "nice": false, "zero": false}, "axis": {"orient": "left", "values": [-10, 0, 10, 20], "title": ["Change in general activity (counts/min)", "from 5 min baseline"], "titleFontSize": 10, "titlePadding": -15}}},
   "layer": [
    {"mark": {"type": "line", "color": "#000", "strokeWidth": 1.1}, "encoding": {"detail": {"field": "series", "type": "nominal"}}},
    {"mark": {"type": "rule", "color": "#000", "strokeWidth": 1.1}, "encoding": {"y2": {"field": "hi"}}},
    {"mark": {"type": "tick", "orient": "horizontal", "color": "#000", "size": 7, "thickness": 1.2}, "encoding": {"y": {"field": "hi", "type": "quantitative", "scale": {"domain": [-10, 25], "nice": false, "zero": false}}}},
    {"mark": {"type": "point", "filled": true, "size": 30, "stroke": "#000", "strokeWidth": 1.1, "opacity": 1}, "encoding": {"shape": {"field": "series", "type": "nominal", "scale": {"domain": ["Atm. Air/Veh", "CO2/Veh", "CO2/SB33"], "range": ["circle", "circle", "triangle-down"]}, "legend": null}, "fill": {"field": "series", "type": "nominal", "scale": {"domain": ["Atm. Air/Veh", "CO2/Veh", "CO2/SB33"], "range": ["#fff", "#000", "#fff"]}, "legend": null}}},
    {"data": {"name": "Ds"}, "mark": {"type": "point", "shape": "M0,-1V1M-0.87,-0.5L0.87,0.5M-0.87,0.5L0.87,-0.5", "filled": false, "size": 85, "strokeWidth": 2.1, "opacity": 1}, "encoding": {"color": {"field": "sig", "type": "nominal", "scale": {"domain": ["vs veh/CO2"], "range": ["#999"]}, "legend": {"title": null, "orient": "none", "legendX": 12, "legendY": 70, "symbolType": "M0,-1V1M-0.87,-0.5L0.87,0.5M-0.87,0.5L0.87,-0.5", "symbolSize": 64, "symbolStrokeWidth": 2, "labelFontSize": 8, "labelOffset": 2, "rowPadding": 0}}}}
   ]}
 ],
 "resolve": {"scale": {"y": "independent", "shape": "independent", "fill": "independent"}}
},
{
 "width": 258, "height": 184,
 "title": {"text": "Core Body Temp", "dx": -1, "offset": -28, "baseline": "alphabetic", "frame": "group"},
 "encoding": {"x": {"field": "t", "type": "quantitative", "scale": {"domain": [-6, -1, 1, 10.73], "range": [0, 82, 98.5, 258], "nice": false, "zero": false}, "axis": {"values": [-5,-4,-3,-2,-1,1,2,3,4,5,6,7,8,9,10], "title": null, "labelOverlap": false, "labelFlush": false}}},
 "layer": [
  {"layer": [
   {"data": {"values": [{"t": 0, "t2": 5}]}, "mark": {"type": "rect", "color": "#e4e4e4"}, "encoding": {"x2": {"field": "t2"}, "y": {"datum": 0, "type": "quantitative", "scale": {"domain": [0, 1], "nice": false, "zero": false}, "axis": {"orient": "right", "labels": false, "ticks": false, "domain": false, "title": "E", "titleAngle": 0, "titleX": -293.3, "titleY": -11, "titleFont": "Liberation Serif", "titleFontWeight": "bold", "titleFontSize": 16, "titleColor": "#000", "titleAlign": "center", "titleBaseline": "alphabetic"}}, "y2": {"datum": 1}}},
   {"data": {"name": "br"}, "mark": {"type": "rule", "color": "#000", "strokeWidth": 1.5}, "encoding": {"x2": {"field": "t2"}, "y": {"datum": -0.109, "type": "quantitative", "scale": {"domain": [0, 1], "nice": false, "zero": false}}}},
   {"data": {"name": "bt"}, "mark": {"type": "tick", "orient": "vertical", "color": "#000", "size": 7, "thickness": 1.5}, "encoding": {"y": {"datum": -0.109, "type": "quantitative", "scale": {"domain": [0, 1], "nice": false, "zero": false}}}},
   {"data": {"name": "bl2"}, "mark": {"type": "text", "lineBreak": "\n", "baseline": "top", "fontSize": 9, "lineHeight": 10, "color": "#333"}, "encoding": {"text": {"field": "label"}, "y": {"datum": -0.13, "type": "quantitative", "scale": {"domain": [0, 1], "nice": false, "zero": false}}}},
   {"data": {"values": [{"t": 2.1, "label": "time (min)"}]}, "mark": {"type": "text", "fontSize": 10, "color": "#222"}, "encoding": {"text": {"field": "label"}, "y": {"datum": 0.054, "type": "quantitative", "scale": {"domain": [0, 1], "nice": false, "zero": false}}}},
   {"data": {"values": [{"t": -4.48, "p": 0.404, "label": "baseline (Celsius)"}]}, "mark": {"type": "text", "fontSize": 4.5, "fontWeight": "bold", "color": "#333"}, "encoding": {"text": {"field": "label"}, "y": {"field": "p", "type": "quantitative", "scale": {"domain": [0, 1], "nice": false, "zero": false}}}},
   {"data": {"values": [{"t": -5.4, "t2": -3.55, "p": 0.39}]}, "mark": {"type": "rule", "color": "#333", "strokeWidth": 0.6}, "encoding": {"x2": {"field": "t2"}, "y": {"field": "p", "type": "quantitative", "scale": {"domain": [0, 1], "nice": false, "zero": false}}}},
   {"data": {"values": [{"t": -2.93, "p": 0.375, "label": "veh/atm air"}, {"t": -2.93, "p": 0.348, "label": "veh/CO2"}, {"t": -2.93, "p": 0.322, "label": "SB33/CO2"}]}, "mark": {"type": "text", "align": "right", "fontSize": 4.5, "color": "#333"}, "encoding": {"text": {"field": "label"}, "y": {"field": "p", "type": "quantitative", "scale": {"domain": [0, 1], "nice": false, "zero": false}}}},
   {"data": {"values": [{"t": -2.77, "p": 0.375, "label": "38.2+/-0.2"}, {"t": -2.77, "p": 0.348, "label": "38.0+/-0.3"}, {"t": -2.77, "p": 0.322, "label": "37.7+/-0.3"}]}, "mark": {"type": "text", "align": "left", "fontSize": 4.5, "color": "#333"}, "encoding": {"text": {"field": "label"}, "y": {"field": "p", "type": "quantitative", "scale": {"domain": [0, 1], "nice": false, "zero": false}}}},
   {"data": {"name": "leg"}, "mark": {"type": "point", "filled": true, "clip": true, "stroke": "#000", "strokeWidth": 1, "size": 49}, "encoding": {"y": {"datum": 3, "type": "quantitative", "scale": {"domain": [0, 1], "nice": false, "zero": false}},
     "shape": {"field": "series", "type": "nominal", "scale": {"domain": ["Atm. Air/Veh", "CO2/Veh", "CO2/SB33"], "range": ["M-2,0H-0.7M0.7,0H2M0.7,0A0.7,0.7,0,1,1,-0.7,0A0.7,0.7,0,1,1,0.7,0Z", "M-2,0H-0.7M0.7,0H2M0.7,0A0.7,0.7,0,1,1,-0.7,0A0.7,0.7,0,1,1,0.7,0Z", "M-2,-0.2H-0.57M0.57,-0.2H2M-0.8,-0.6H0.8L0,0.8Z"]}, "legend": {"title": null, "orient": "none", "legendX": 11.8, "legendY": 30.7, "symbolSize": 49, "symbolStrokeColor": "#000", "symbolStrokeWidth": 1, "symbolOpacity": 1, "labelFontSize": 8, "labelOffset": 7.2, "rowPadding": 0, "clipHeight": 9.3, "encode": {"symbols": {"update": {"stroke": {"value": "#000"}, "strokeWidth": {"value": 1}}}}}},
     "fill": {"field": "series", "type": "nominal", "scale": {"domain": ["Atm. Air/Veh", "CO2/Veh", "CO2/SB33"], "range": ["#fff", "#000", "#fff"]}, "legend": {"title": null, "orient": "none", "legendX": 11.8, "legendY": 30.7, "symbolSize": 49, "symbolStrokeColor": "#000", "symbolStrokeWidth": 1, "symbolOpacity": 1, "labelFontSize": 8, "labelOffset": 7.2, "rowPadding": 0, "clipHeight": 9.3, "encode": {"symbols": {"update": {"stroke": {"value": "#000"}, "strokeWidth": {"value": 1}}}}}}}}
  ]},
  {"data": {"name": "E"}, "encoding": {"y": {"field": "v", "type": "quantitative", "scale": {"domain": [-1.8, 0.2], "nice": false, "zero": false}, "axis": {"orient": "left", "values": [0.2, 0, -0.2, -0.4, -0.6, -0.8, -1, -1.2, -1.4, -1.6, -1.8], "format": ".1f", "title": ["Change in core body temp", "(Celsius) from 5 min baseline"], "titlePadding": 8, "titleLineHeight": 16}}},
   "layer": [
    {"mark": {"type": "line", "color": "#000", "strokeWidth": 1.1}, "encoding": {"detail": {"field": "series", "type": "nominal"}}},
    {"mark": {"type": "rule", "color": "#000", "strokeWidth": 1.1}, "encoding": {"y2": {"field": "hi"}}},
    {"mark": {"type": "tick", "orient": "horizontal", "color": "#000", "size": 7, "thickness": 1.2}, "encoding": {"y": {"field": "hi", "type": "quantitative", "scale": {"domain": [-1.8, 0.2], "nice": false, "zero": false}}}},
    {"mark": {"type": "point", "filled": true, "size": 30, "stroke": "#000", "strokeWidth": 1.1, "opacity": 1}, "encoding": {"shape": {"field": "series", "type": "nominal", "scale": {"domain": ["Atm. Air/Veh", "CO2/Veh", "CO2/SB33"], "range": ["circle", "circle", "triangle-down"]}, "legend": null}, "fill": {"field": "series", "type": "nominal", "scale": {"domain": ["Atm. Air/Veh", "CO2/Veh", "CO2/SB33"], "range": ["#fff", "#000", "#fff"]}, "legend": null}}},
    {"data": {"name": "Es"}, "mark": {"type": "point", "shape": "M0,-1V1M-0.87,-0.5L0.87,0.5M-0.87,0.5L0.87,-0.5", "filled": false, "size": 85, "strokeWidth": 2.1, "opacity": 1}, "encoding": {"color": {"field": "sig", "type": "nominal", "scale": {"domain": ["vs Atm. Air/Veh", "vs CO2/Veh"], "range": ["#000", "#c8c8c8"]}, "legend": {"title": null, "orient": "none", "legendX": 9.3, "legendY": 69, "symbolType": "M0,-1V1M-0.87,-0.5L0.87,0.5M-0.87,0.5L0.87,-0.5", "symbolSize": 64, "symbolStrokeWidth": 2, "labelFontSize": 8, "labelOffset": 2.7, "rowPadding": 0, "clipHeight": 10}}}}
   ]}
 ],
 "resolve": {"scale": {"y": "independent", "shape": "independent", "fill": "independent"}}
},
{
 "width": 122, "height": 184,
 "title": {"text": "Open Field", "dx": -19, "offset": -32, "baseline": "alphabetic", "frame": "group"},
 "layer": [
  {"data": {"name": "F"},
   "encoding": {
    "x": {"field": "grp", "type": "nominal", "sort": null, "scale": {"domain": ["line crossing", "Center Time"], "paddingInner": 0, "paddingOuter": 0.1}, "axis": {"title": null, "labelAngle": 0, "labelFontSize": 9.5, "tickSize": 4, "labelPadding": 3}},
    "xOffset": {"field": "g", "type": "nominal", "sort": null, "scale": {"domain": ["Veh/atm. air", "veh/CO2", "SB33/CO2"], "paddingInner": 0.32, "paddingOuter": 0.17}},
    "y": {"field": "v", "type": "quantitative", "scale": {"domain": [0, 200], "nice": false, "zero": false}, "axis": {"orient": "left", "values": [0, 50, 100, 150, 200], "title": "Incidents/Duration (sec)±SEM", "titleFontSize": 10.5}}
   },
   "layer": [
    {"mark": {"type": "bar", "stroke": "#000", "strokeWidth": 1}, "encoding": {"fill": {"field": "g", "type": "nominal", "scale": {"domain": ["Veh/atm. air", "veh/CO2", "SB33/CO2"], "range": ["#fff", "#000", "#c8c8c8"]}, "legend": {"title": null, "orient": "none", "legendX": 65.4, "legendY": 13.8, "symbolType": "M-2,-0.8H2V0.8H-2Z", "symbolSize": 49, "symbolStrokeColor": "#000", "symbolStrokeWidth": 1, "labelFontSize": 7.5, "labelOffset": 9, "rowPadding": 2}}}},
    {"mark": {"type": "rule", "color": "#000", "strokeWidth": 1.1}, "encoding": {"y2": {"field": "hi"}}},
    {"mark": {"type": "tick", "orient": "horizontal", "color": "#000", "size": 9, "thickness": 1.2}, "encoding": {"y": {"field": "hi", "type": "quantitative", "scale": {"domain": [0, 200], "nice": false, "zero": false}}}}
   ]},
  {"data": {"values": [{"k": 1}]}, "mark": {"type": "rule", "opacity": 0}, "encoding": {"y": {"datum": 0, "type": "quantitative", "scale": {"domain": [0, 1], "nice": false, "zero": false}, "axis": {"orient": "right", "labels": false, "ticks": false, "domain": false, "title": "F", "titleAngle": 0, "titleX": -159, "titleY": -11, "titleFont": "Liberation Serif", "titleFontWeight": "bold", "titleFontSize": 16, "titleColor": "#000", "titleAlign": "center", "titleBaseline": "alphabetic"}}}}
 ],
 "resolve": {"scale": {"y": "independent"}}
}
],
"config": {
 "font": "Liberation Sans",
 "view": {"stroke": null},
 "axis": {"grid": false, "domainColor": "#000", "tickColor": "#000", "labelColor": "#222", "titleColor": "#222", "labelFontSize": 10, "titleFontSize": 11, "titleFontWeight": "normal", "tickSize": 5, "domainWidth": 1.3, "tickWidth": 1.2, "labelPadding": 2, "titleLineHeight": 13},
 "title": {"fontSize": 16, "fontWeight": "normal", "color": "#111", "anchor": "middle"},
 "legend": {"padding": 0, "labelColor": "#222"}
}
}
